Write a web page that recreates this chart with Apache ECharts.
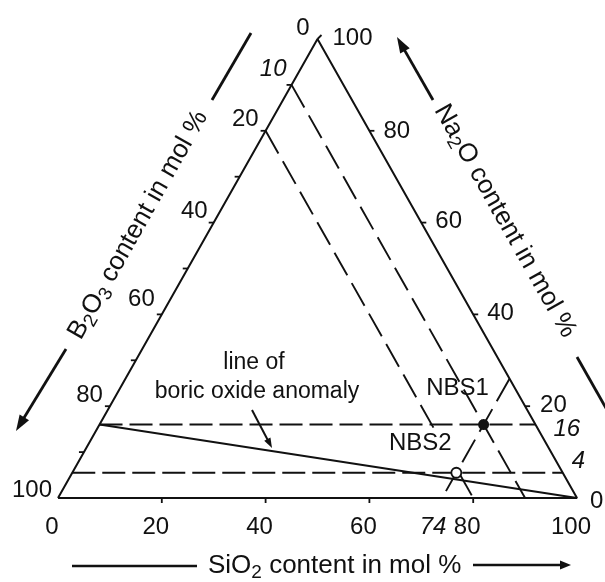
<!DOCTYPE html>
<html><head><meta charset="utf-8">
<script src="https://cdn.jsdelivr.net/npm/echarts@6/dist/echarts.min.js"></script>
<style>html,body{margin:0;padding:0;background:#fff}#c{width:605px;height:582px}</style>
</head><body><div id="c"></div>
<script>
// Ternary diagram: SiO2 (bottom edge, 0 at left → 100 at right),
// Na2O (right edge, 0 at bottom-right → 100 at apex),
// B2O3 (left edge, 100 at bottom-left → 0 at apex). All in mol %.
const sio2TickValues = [0, 20, 40, 60, 80, 100];
const sio2TickLabels = ['0', '20', '40', '60', '80', '100'];
const sio2MinorTicks = [20, 40, 60, 80];
const b2o3TickValues = [100, 80, 60, 40, 20, 0];
const b2o3TickLabels = ['100', '80', '60', '40', '20', '0'];
const b2o3MinorTicks = [10, 20, 30, 40, 50, 60, 70, 80, 90];
const na2oTickValues = [0, 20, 40, 60, 80, 100];
const na2oTickLabels = ['0', '20', '40', '60', '80', '100'];
const na2oMinorTicks = [20, 40, 60, 80];

// highlighted composition levels (italic labels)
const b2o3Levels = [10, 20];
const b2o3LevelLabels = ['10'];
const sio2Levels = [74];
const sio2LevelLabels = ['74'];
const na2oLevels = [16, 5.5];
const na2oLevelLabels = ['16', '4'];

// glass samples
const sampleNames = ['NBS1', 'NBS2'];
const sampleSiO2 = [74, 74];
const sampleNa2O = [16, 5.5];

// line of boric oxide anomaly (end points)
const anomalySiO2 = [0, 100];
const anomalyNa2O = [16, 0];

// ---------------------------------------------------------------
function tern(s, n) { return [s + n / 2, n]; }          // (SiO2, Na2O) -> plane
function fromB(b, n) { return tern(100 - b - n, n); }   // (B2O3, Na2O) -> plane
const FONT = '"Liberation Sans", Arial, Helvetica, sans-serif';
const INK = '#111';

function tickSeries(points, dx, dy) {
  return {
    type: 'custom', coordinateSystem: 'cartesian2d', silent: true, z: 5, clip: false,
    data: points,
    renderItem: (p, api) => {
      const c = api.coord([api.value(0), api.value(1)]);
      return { type: 'line', shape: { x1: c[0], y1: c[1], x2: c[0] + dx, y2: c[1] + dy },
        style: { stroke: INK, lineWidth: 1.8 } };
    }
  };
}
function labelSeries(points, texts, offsets, align, italic, size) {
  return {
    type: 'custom', coordinateSystem: 'cartesian2d', silent: true, z: 6, clip: false,
    data: points,
    renderItem: (p, api) => {
      const c = api.coord([api.value(0), api.value(1)]);
      const o = offsets[p.dataIndex] || offsets[0];
      return { type: 'text', x: c[0] + o[0], y: c[1] + o[1],
        style: { text: texts[p.dataIndex], fill: INK, fontSize: size, fontFamily: FONT,
          fontStyle: italic ? 'italic' : 'normal', align: align, verticalAlign: 'middle' } };
    }
  };
}
function lineSeries(pts, dash, width) {
  return {
    type: 'line', data: pts, showSymbol: false, silent: true, z: 3,
    lineStyle: { color: INK, width: width || 2, type: dash || 'solid', opacity: 1 },
    animation: false
  };
}
function arrow(x1, y1, x2, y2, len, wid, lw) {
  const a = Math.atan2(y2 - y1, x2 - x1), ux = Math.cos(a), uy = Math.sin(a);
  const bx = x2 - ux * len, by = y2 - uy * len;
  return [
    { type: 'line', shape: { x1: x1, y1: y1, x2: bx + ux * 2, y2: by + uy * 2 }, style: { stroke: INK, lineWidth: lw } },
    { type: 'polygon', shape: { points: [[x2, y2], [bx - uy * wid / 2, by + ux * wid / 2], [bx + uy * wid / 2, by - ux * wid / 2]] },
      style: { fill: INK } }
  ];
}

const series = [];
// triangle frame
series.push(lineSeries([tern(0, 0), tern(100, 0), tern(0, 100), tern(0, 0)], 'solid', 2));

// constant Na2O (horizontal dashed)
na2oLevels.forEach(n => series.push(lineSeries([tern(0, n), tern(100 - n, n)], [23, 7], 1.9)));
// constant B2O3 (parallel to right edge)
series.push(lineSeries([fromB(b2o3Levels[0], 100 - b2o3Levels[0]), fromB(b2o3Levels[0], 0)], [26, 9], 1.9));
series.push(lineSeries([fromB(b2o3Levels[1], 100 - b2o3Levels[1]), fromB(b2o3Levels[1], 15)], [26, 9], 1.9));
series.push(lineSeries([fromB(b2o3Levels[1], sampleNa2O[1]), fromB(b2o3Levels[1], 0)], [26, 9], 1.9));
// constant SiO2 (parallel to left edge)
sio2Levels.forEach(s => series.push(lineSeries([tern(s, 100 - s), tern(s, 1.5)], [26, 9], 1.9)));
// anomaly line
series.push(lineSeries([tern(anomalySiO2[0], anomalyNa2O[0]), tern(anomalySiO2[1], anomalyNa2O[1])], 'solid', 2));

// ticks
series.push(tickSeries(sio2MinorTicks.map(s => tern(s, 0)), 0, 5));
series.push(tickSeries(b2o3MinorTicks.map(b => fromB(b, 100 - b)), -5, 0));
series.push(tickSeries(na2oMinorTicks.map(n => tern(100 - n, n)), 5, 0));
series.push(tickSeries([tern(0, 100)], 4, -4));

// tick labels
series.push(labelSeries(sio2TickValues.map(s => tern(s, 0)), sio2TickLabels, [[-6, 29]], 'center', false, 24));
series.push(labelSeries(sio2Levels.map(s => tern(s, 0)), sio2LevelLabels, [[-9, 29]], 'center', true, 24));
series.push(labelSeries(b2o3TickValues.map(b => fromB(b, 100 - b)), b2o3TickLabels,
  [[-6, -8], [-7, -11], [-7, -15], [-6, -11], [-7, -11], [-8, -11]], 'right', false, 24));
series.push(labelSeries([fromB(b2o3Levels[0], 100 - b2o3Levels[0])], b2o3LevelLabels, [[-5, -16]], 'right', true, 24));
series.push(labelSeries(na2oTickValues.map(n => tern(100 - n, n)), na2oTickLabels,
  [[13, 3], [15, -1], [14, -1], [14, -1], [14, 1], [15, -1]], 'left', false, 24));
series.push(labelSeries(na2oLevels.map(n => tern(100 - n, n)), na2oLevelLabels, [[18, 5], [9, -11]], 'left', true, 24));

// samples
const sampleLabelOffsets = [[-26, -36], [-36, -29]];
series.push({
  type: 'scatter', z: 8, silent: true,
  data: sampleNames.map((nm, i) => ({
    name: nm, value: tern(sampleSiO2[i], sampleNa2O[i]),
    symbol: 'circle', symbolSize: i === 0 ? 11 : 10,
    itemStyle: i === 0 ? { color: INK, opacity: 1 } : { color: '#fff', borderColor: INK, borderWidth: 1.8, opacity: 1 },
    label: { show: true, formatter: '{b}', position: 'inside', offset: sampleLabelOffsets[i],
      color: INK, fontSize: 24, fontFamily: FONT, opacity: 1 }
  }))
});

const graphic = [];
// axis titles
const sub = { fontSize: 19, fontFamily: FONT, padding: [13, 0, 0, 0] };
const main = { fontSize: 26, fontFamily: FONT };
graphic.push({ type: 'text', x: 208, y: 566, style: { text: '{m|SiO}{s|2}{m| content in mol %}', rich: { m: main, s: sub },
  fill: INK, fontSize: 26, fontFamily: FONT, align: 'left', verticalAlign: 'middle' } });
graphic.push({ type: 'text', x: 138, y: 225, rotation: 60.5 * Math.PI / 180,
  style: { text: '{m|B}{s|2}{m|O}{s|3}{m| content in mol %}', rich: { m: main, s: sub },
    fill: INK, fontSize: 26, fontFamily: FONT, align: 'center', verticalAlign: 'middle' } });
graphic.push({ type: 'text', x: 505, y: 221, rotation: -60.5 * Math.PI / 180,
  style: { text: '{m|Na}{s|2}{m|O content in mol %}', rich: { m: main, s: sub },
    fill: INK, fontSize: 26, fontFamily: FONT, align: 'center', verticalAlign: 'middle' } });
// arrows and lines near titles
graphic.push({ type: 'line', shape: { x1: 72, y1: 566, x2: 197, y2: 566 }, style: { stroke: INK, lineWidth: 2.4 } });
graphic.push(...arrow(473, 565, 571, 565, 11, 9, 2.4));
graphic.push({ type: 'line', shape: { x1: 212, y1: 100, x2: 251, y2: 33 }, style: { stroke: INK, lineWidth: 2.8 } });
graphic.push(...arrow(66, 349, 16, 431, 16, 11, 2.8));
graphic.push(...arrow(433, 100, 397, 37, 16, 11, 2.8));
graphic.push({ type: 'line', shape: { x1: 577, y1: 357, x2: 607, y2: 410 }, style: { stroke: INK, lineWidth: 2.8 } });
// annotation
graphic.push({ type: 'text', x: 254, y: 363, style: { text: 'line of', fill: INK, fontSize: 23, fontFamily: FONT, align: 'center', verticalAlign: 'middle' } });
graphic.push({ type: 'text', x: 257, y: 392, style: { text: 'boric oxide anomaly', fill: INK, fontSize: 23, fontFamily: FONT, align: 'center', verticalAlign: 'middle' } });
graphic.push(...arrow(252, 410, 272, 448, 10, 7, 2));

const chart = echarts.init(document.getElementById('c'), null, { renderer: 'canvas' });
chart.setOption({
  animation: false,
  backgroundColor: '#fff',
  grid: { left: 58, right: 28, top: 39, bottom: 84 },
  xAxis: { type: 'value', min: 0, max: 100, show: false },
  yAxis: { type: 'value', min: 0, max: 100, show: false },
  series: series,
  graphic: graphic
});
</script></body></html>
